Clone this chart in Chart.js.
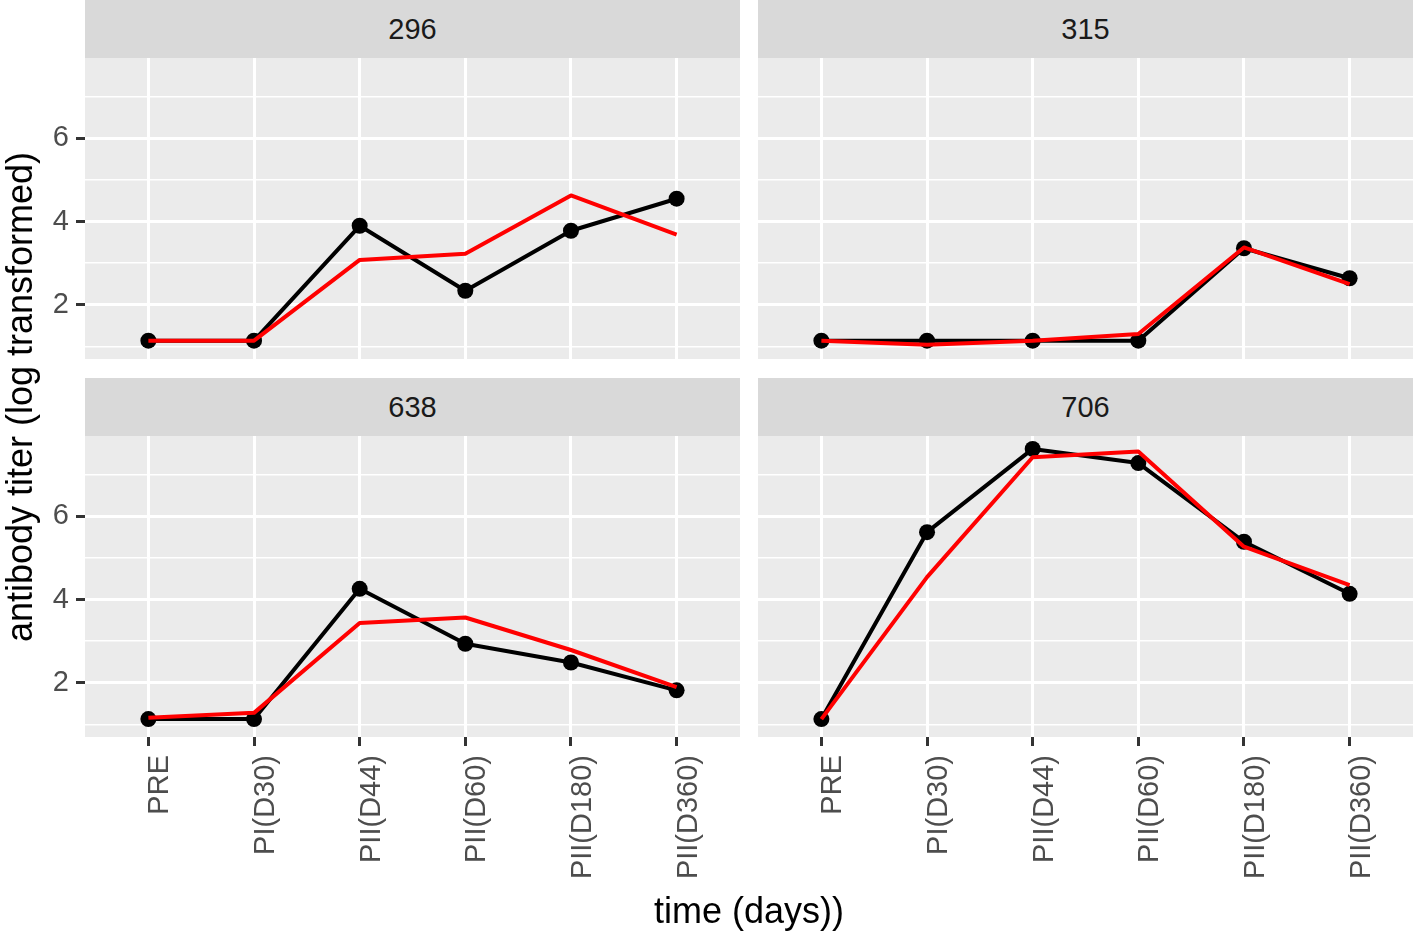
<!DOCTYPE html>
<html>
<head>
<meta charset="utf-8">
<script src="https://cdn.jsdelivr.net/npm/chart.js@4.4.1/dist/chart.umd.min.js"></script>
<style>
  body { margin: 0; background: #fff; width: 1413px; height: 935px; position: relative; overflow: hidden; font-family: "Liberation Sans", Arial, sans-serif; }
  canvas { position: absolute; }
  .strip { position: absolute; height: 58px; line-height: 58px; background: #D9D9D9; color: #1A1A1A; font-size: 29px; text-align: center; }
  .title { position: absolute; height: 40px; line-height: 40px; font-size: 36px; color: #000; text-align: center; white-space: nowrap; }
</style>
</head>
<body>
<div class="strip" style="left:85px;top:0;width:655px">296</div>
<div class="strip" style="left:758px;top:0;width:655px">315</div>
<div class="strip" style="left:85px;top:378px;width:655px">638</div>
<div class="strip" style="left:758px;top:378px;width:655px">706</div>

<canvas id="p296" width="740" height="301" style="left:0;top:58px"></canvas>
<canvas id="p315" width="655" height="301" style="left:758px;top:58px"></canvas>
<canvas id="p638" width="740" height="461" style="left:0;top:436px"></canvas>
<canvas id="p706" width="655" height="461" style="left:758px;top:436px"></canvas>

<div class="title" style="left:-280px;top:377px;width:600px;transform:rotate(-90deg)">antibody titer (log transformed)</div>
<div class="title" style="left:449px;top:891px;width:600px">time (days))</div>

<script>
// time points
var categories = ["PRE", "PI(D30)", "PII(D44)", "PII(D60)", "PII(D180)", "PII(D360)"];
var yTicks = [1, 2, 3, 4, 5, 6, 7];

// black line with points
var observed296 = [1.14, 1.14, 3.90, 2.34, 3.78, 4.55];
var observed315 = [1.14, 1.14, 1.14, 1.14, 3.36, 2.64];
var observed638 = [1.13, 1.13, 4.26, 2.94, 2.49, 1.82];
var observed706 = [1.13, 5.62, 7.62, 7.28, 5.39, 4.14];

// red line
var fitted296 = [1.14, 1.14, 3.08, 3.23, 4.63, 3.69];
var fitted315 = [1.14, 1.04, 1.14, 1.30, 3.38, 2.50];
var fitted638 = [1.16, 1.28, 3.44, 3.57, 2.79, 1.90];
var fitted706 = [1.13, 4.54, 7.42, 7.56, 5.27, 4.35];

var fontFamily = "'Liberation Sans', Arial, sans-serif";

// grey panel background behind the grid
var panelBg = {
  id: "panelBg",
  beforeDraw: function (chart) {
    var a = chart.chartArea;
    var ctx = chart.ctx;
    ctx.save();
    ctx.fillStyle = "#EBEBEB";
    ctx.fillRect(a.left, a.top, a.right - a.left, a.bottom - a.top);
    ctx.restore();
  }
};

function toPoints(values) {
  return values.map(function (v, i) { return { x: i, y: v }; });
}

function makePanel(id, observed, fitted, showY, showX) {
  new Chart(document.getElementById(id), {
    type: "line",
    data: {
      datasets: [
        {
          label: "fitted",
          data: toPoints(fitted),
          borderColor: "#FF0000",
          borderWidth: 4,
          borderJoinStyle: "round",
          pointRadius: 0,
          tension: 0,
          clip: false
        },
        {
          label: "observed",
          data: toPoints(observed),
          borderColor: "#000000",
          backgroundColor: "#000000",
          borderWidth: 4,
          borderJoinStyle: "round",
          pointRadius: 8,
          pointBorderWidth: 0,
          tension: 0,
          clip: false
        }
      ]
    },
    options: {
      responsive: false,
      animation: false,
      events: [],
      layout: { padding: 0, autoPadding: false },
      plugins: {
        legend: { display: false },
        tooltip: { enabled: false }
      },
      scales: {
        x: {
          type: "linear",
          min: -0.6,
          max: 5.6,
          afterBuildTicks: function (s) {
            s.ticks = categories.map(function (c, i) { return { value: i }; });
          },
          ticks: {
            display: showX,
            autoSkip: false,
            minRotation: 90,
            maxRotation: 90,
            padding: 9,
            labelOffset: 12,
            color: "#4D4D4D",
            font: { family: fontFamily, size: 29 },
            callback: function (v) { return categories[v]; }
          },
          grid: {
            color: "#FFFFFF",
            lineWidth: 3,
            drawTicks: showX,
            tickLength: 9,
            tickColor: "#333333",
            tickWidth: 3
          },
          border: { display: false },
          afterFit: function (s) {
            s.height = showX ? 160 : 0;
            s.paddingLeft = 0;
            s.paddingRight = 0;
          }
        },
        y: {
          type: "linear",
          min: 0.7,
          max: 7.93,
          afterBuildTicks: function (s) {
            s.ticks = yTicks.map(function (v) { return { value: v }; });
          },
          ticks: {
            display: showY,
            padding: 7,
            color: "#4D4D4D",
            font: { family: fontFamily, size: 29 },
            callback: function (v) { return v % 2 === 0 ? String(v) : ""; }
          },
          grid: {
            color: "#FFFFFF",
            lineWidth: function (c) { return c.tick && c.tick.value % 2 === 0 ? 3 : 1.5; },
            drawTicks: showY,
            tickLength: 9,
            tickColor: function (c) { return c.tick && c.tick.value % 2 === 0 ? "#333333" : "rgba(0,0,0,0)"; },
            tickWidth: 3
          },
          border: { display: false },
          afterFit: function (s) {
            s.width = showY ? 85 : 0;
            s.paddingTop = 0;
            s.paddingBottom = 0;
          }
        }
      }
    },
    plugins: [panelBg]
  });
}

makePanel("p296", observed296, fitted296, true, false);
makePanel("p315", observed315, fitted315, false, false);
makePanel("p638", observed638, fitted638, true, true);
makePanel("p706", observed706, fitted706, false, true);
</script>
</body>
</html>
